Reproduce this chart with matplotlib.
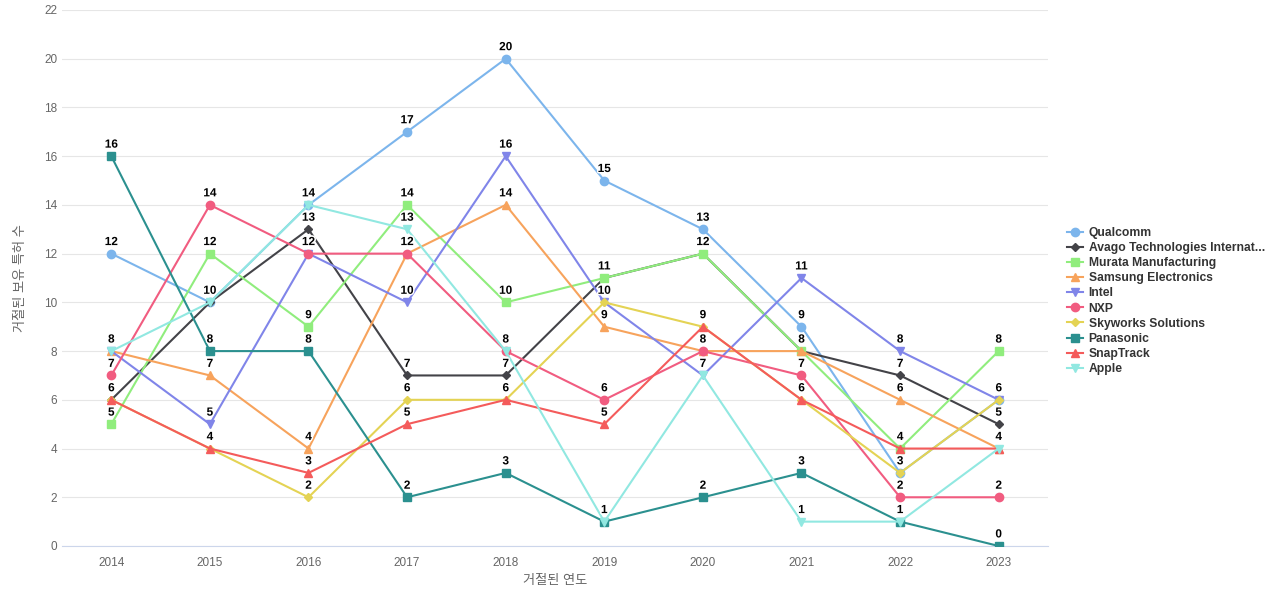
import matplotlib
matplotlib.use("Agg")
import matplotlib.pyplot as plt
import matplotlib.patheffects as pe

plt.rcParams['font.family'] = ['Liberation Sans', 'Noto Sans CJK KR', 'DejaVu Sans']

years = [2014, 2015, 2016, 2017, 2018, 2019, 2020, 2021, 2022, 2023]
series_names = ["Qualcomm", "Avago Technologies Internat...", "Murata Manufacturing",
                "Samsung Electronics", "Intel", "NXP", "Skyworks Solutions",
                "Panasonic", "SnapTrack", "Apple"]
qualcomm = [12, 10, 14, 17, 20, 15, 13, 9, 3, 6]
avago = [6, 10, 13, 7, 7, 11, 12, 8, 7, 5]
murata = [5, 12, 9, 14, 10, 11, 12, 8, 4, 8]
samsung = [8, 7, 4, 12, 14, 9, 8, 8, 6, 4]
intel = [8, 5, 12, 10, 16, 10, 7, 11, 8, 6]
nxp = [7, 14, 12, 12, 8, 6, 8, 7, 2, 2]
skyworks = [6, 4, 2, 6, 6, 10, 9, 6, 3, 6]
panasonic = [16, 8, 8, 2, 3, 1, 2, 3, 1, 0]
snaptrack = [6, 4, 3, 5, 6, 5, 9, 6, 4, 4]
apple = [8, 10, 14, 13, 8, 1, 7, 1, 1, 4]
values = [qualcomm, avago, murata, samsung, intel, nxp, skyworks, panasonic, snaptrack, apple]

colors = ["#7cb5ec", "#434348", "#90ed7d", "#f7a35c", "#8085e9", "#f15c80",
          "#e4d354", "#2b908f", "#f45b5b", "#91e8e1"]
markers = ["o", "D", "s", "^", "v", "o", "D", "s", "^", "v"]
msizes = [6, 4.5, 6, 6, 6, 6, 4.5, 6, 6, 6]

fig = plt.figure(figsize=(12.8, 6), dpi=100)
ax = fig.add_axes([62/1280, 54/600, (1048-62)/1280, (546-10)/600])

for name, vals, c, m, ms in zip(series_names, values, colors, markers, msizes):
    ax.plot(years, vals, color=c, lw=1.5, marker=m, markersize=ms, label=name, zorder=3)

for vals in values:
    for x, y in zip(years, vals):
        ax.annotate(str(y), (x, y), xytext=(0, 4), textcoords='offset points',
                    ha='center', va='bottom', fontsize=8.5, fontweight='bold', color='black',
                    zorder=5, path_effects=[pe.withStroke(linewidth=2, foreground='white')])

ax.set_xlim(2013.5, 2023.5)
ax.set_ylim(0, 22)
ax.set_yticks(range(0, 23, 2))
ax.set_xticks(years)
ax.tick_params(axis='both', length=0, labelsize=8.5, colors='#666666')
ax.tick_params(axis='x', pad=8)
ax.grid(axis='y', color='#e6e6e6', lw=0.8)
ax.set_axisbelow(True)
for s in ['top', 'right', 'left']:
    ax.spines[s].set_visible(False)
ax.spines['bottom'].set_color('#ccd6eb')
ax.set_xlabel("거절된 연도", fontsize=9.5, color='#666666', labelpad=4)
ax.set_ylabel("거절된 보유 특허 수", fontsize=9.5, color='#666666', labelpad=12)

leg = fig.legend(loc='upper left', bbox_to_anchor=(1062/1280, 1 - 222/600), frameon=False,
                 fontsize=8.7, handlelength=1.3, labelspacing=0.26, handletextpad=0.5,
                 borderaxespad=0)
for t in leg.get_texts():
    t.set_fontweight('bold')
    t.set_color('#333333')

fig.savefig("out.png", dpi=100)
